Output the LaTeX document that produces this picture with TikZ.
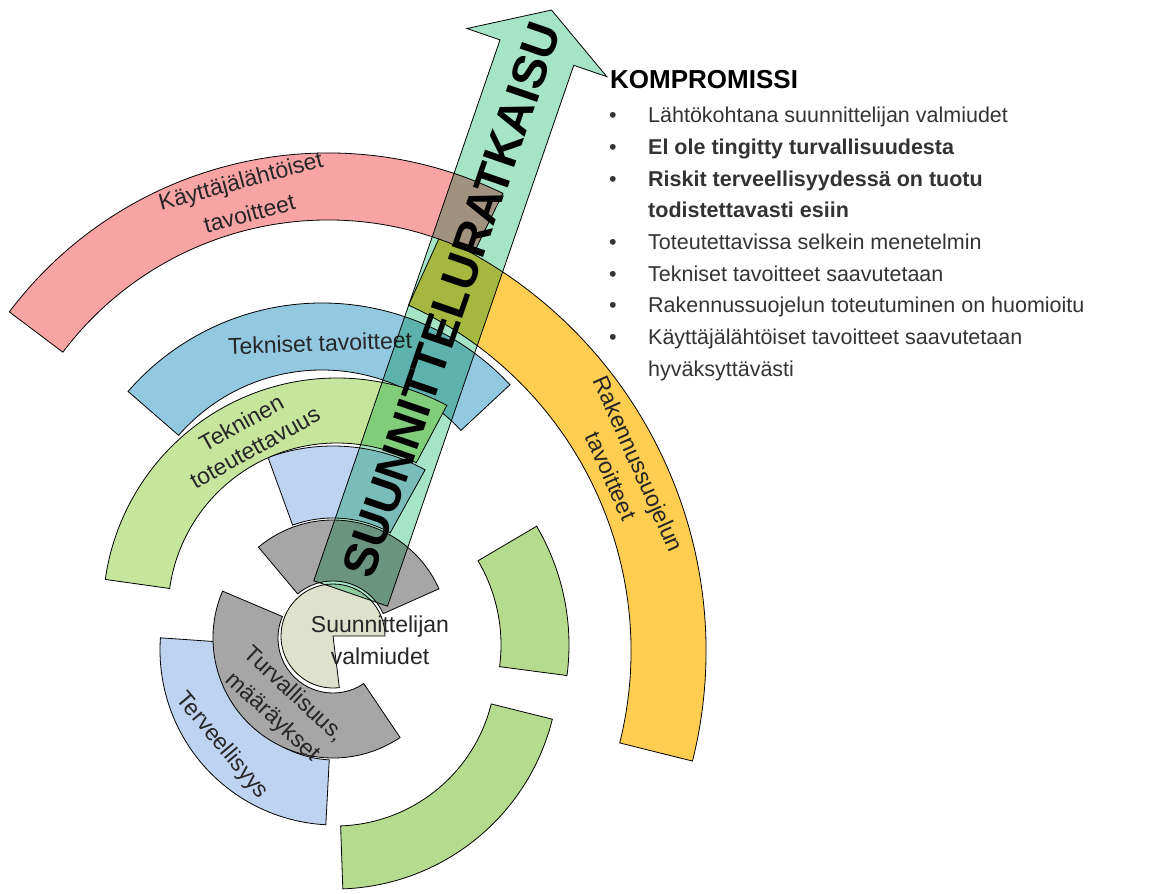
\documentclass[tikz,border=0pt]{standalone}
\usepackage{fontspec}
\setmainfont{Liberation Sans}
\usetikzlibrary{positioning, calc}
\definecolor{rosered}{RGB}{249,164,164}
\definecolor{techblue}{RGB}{146,200,224}
\definecolor{paleblue}{RGB}{190,211,240}
\definecolor{leafgreen}{RGB}{198,230,158}
\definecolor{grassgreen}{RGB}{181,220,142}
\definecolor{stonegray}{RGB}{166,166,166}
\definecolor{diskbeige}{RGB}{222,226,205}
\definecolor{sunyellow}{RGB}{255,205,80}
\definecolor{mint}{RGB}{165,228,198}

% block arc: [style] {centre} {start angle} {end angle} {inner r} {outer r}
\newcommand{\ringpart}[6][]{%
  \filldraw[part, #1] ($(#2)+(#3:#6)$) arc[start angle=#3, end angle=#4, radius=#6]
    -- ($(#2)+(#4:#5)$) arc[start angle=#4, end angle=#3, radius=#5] -- cycle;}

\begin{document}
\begin{tikzpicture}[x=1pt, y=1pt,
        part/.style={draw=black, line width=0.8pt},
        ringtext/.style={font=\fontsize{23}{30}\selectfont, align=center, inner sep=0pt, text=black!85},
        listtext/.style={font=\fontsize{21.5}{31.7}\selectfont, inner sep=0pt, text=black!80}
    ]
    \useasboundingbox (0,0) rectangle (1155,-893);

    % rings
    \ringpart[fill=techblue]{322,-560}{43}{139}{190}{257}
    \ringpart[fill=paleblue]{333,-636}{61}{110}{118}{190}
    \ringpart[fill=leafgreen]{337,-612}{62}{172}{169}{234}
    \ringpart[fill=grassgreen]{335,-645}{-7.5}{30.5}{166}{234}
    \ringpart[fill=grassgreen]{335,-665}{-88}{-14}{161}{224}
    \ringpart[fill=paleblue]{335,-650}{176}{267}{110}{175}
    \ringpart[fill=stonegray]{333,-636}{24}{130}{55}{116}
    \ringpart[fill=stonegray]{333,-638}{157}{304}{55}{120}
    \filldraw[part, fill=diskbeige] (333,-636) -- ++(0:52) arc[start angle=0, end angle=277, radius=52] -- cycle;
    \ringpart[fill=sunyellow]{251,-651}{-14}{65.5}{380}{455}
    \ringpart[fill=rosered]{328,-552}{64}{143}{332}{399}

    % ring labels
    \node[ringtext, rotate=15, font=\fontsize{23}{34}\selectfont] (kayttaja) at (245,-197) {Käyttäjälähtöiset\\tavoitteet};
    \node[ringtext, rotate=2] (tekniset) at (320,-343) {Tekniset tavoitteet};
    \node[ringtext, rotate=29, font=\fontsize{23}{28}\selectfont] (tekninen) at (248,-435) {Tekninen\\toteutettavuus};
    \node[ringtext, rotate=-66] (rakennus) at (625,-470) {Rakennussuojelun\\tavoitteet};
    \node[ringtext, rotate=-43, font=\fontsize{23}{31}\selectfont] (turva) at (283,-706) {Turvallisuus,\\määräykset};
    \node[ringtext, rotate=-50] (terveys) at (222,-746) {Terveellisyys};
    \node[ringtext, font=\fontsize{23}{32}\selectfont] (valmiudet) at (380,-640) {Suunnittelijan\\valmiudet};

    % solution arrow
    \begin{scope}[shift={(336,-636)}, rotate=71, blend mode=multiply]
        \filldraw[part, fill=mint] (45,-39) -- (617,-39) -- (617,-74) -- (662,0)
            -- (617,74) -- (617,39) -- (45,39) -- cycle;
    \end{scope}
    \node[font=\bfseries\fontsize{48}{48}\selectfont, rotate=71, inner sep=0pt] (ratkaisu) at (451.7,-299.9) {SUUNNITTELURATKAISU};

    % compromise list
    \node[anchor=west, font=\bfseries\fontsize{26}{30}\selectfont, inner sep=0pt] (kompromissi) at (610,-80) {KOMPROMISSI};
    \node[listtext, below=11pt of kompromissi.south west, anchor=north west, xshift=-1pt] (kriteerit) {%
        \begin{tabular}{@{}p{39pt}@{}l@{}}
        \textbullet & Lähtökohtana suunnittelijan valmiudet\\
        \textbullet & \textbf{El ole tingitty turvallisuudesta}\\
        \textbullet & \textbf{Riskit terveellisyydessä on tuotu}\\
                    & \textbf{todistettavasti esiin}\\
        \textbullet & Toteutettavissa selkein menetelmin\\
        \textbullet & Tekniset tavoitteet saavutetaan\\
        \textbullet & Rakennussuojelun toteutuminen on huomioitu\\
        \textbullet & Käyttäjälähtöiset tavoitteet saavutetaan\\
                    & hyväksyttävästi
        \end{tabular}};
\end{tikzpicture}
\end{document}
